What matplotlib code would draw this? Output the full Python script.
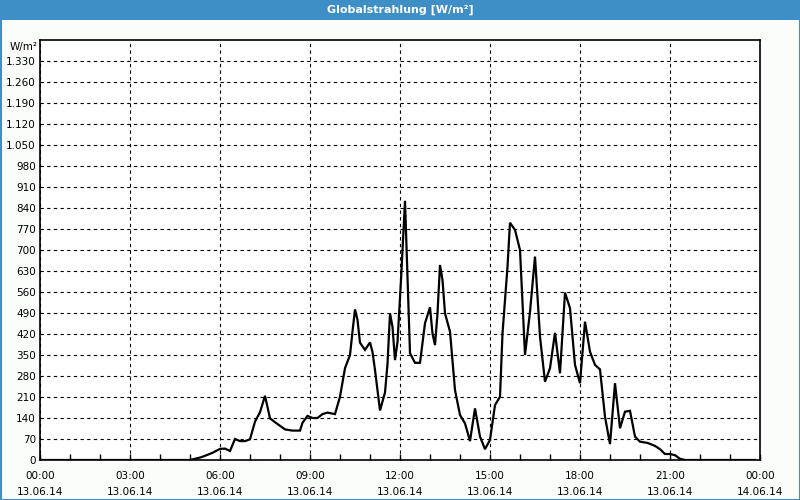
import matplotlib
matplotlib.use("Agg")
import matplotlib.pyplot as plt
from matplotlib.patches import Rectangle
from matplotlib.ticker import MultipleLocator, FuncFormatter

# minutes since 13.06.14 00:00
minutes = [0, 300, 320, 330, 345, 360, 370, 380, 390, 400, 410, 420, 430, 440,
           450, 460, 470, 480, 490, 505, 520, 525, 535, 545, 555, 565, 575, 590,
           600, 610, 620, 625, 630, 635, 640, 650, 660, 665, 670, 680, 690, 695,
           700, 705, 710, 715, 722, 730, 740, 750, 760, 770, 780, 785, 790, 795,
           800, 805, 810, 820, 830, 840, 850, 860, 870, 880, 890, 900, 910, 920,
           925, 935, 940, 950, 960, 970, 980, 990, 1000, 1010, 1020, 1030, 1040,
           1050, 1060, 1070, 1080, 1090, 1100, 1110, 1120, 1130, 1140, 1150, 1160,
           1170, 1180, 1190, 1200, 1215, 1230, 1240, 1250, 1260, 1270, 1280, 1290,
           1430]
values = [0, 0, 8, 14, 24, 37, 38, 30, 70, 63, 63, 69, 128, 159,
          214, 139, 126, 114, 102, 98, 98, 124, 147, 140, 140, 153, 158, 153,
          211, 306, 350, 428, 502, 467, 391, 367, 392, 360, 300, 165, 225, 320,
          489, 444, 333, 394, 600, 864, 356, 324, 324, 456, 509, 422, 383, 489,
          650, 600, 489, 428, 233, 150, 122, 63, 172, 78, 36, 67, 183, 211,
          422, 644, 791, 767, 700, 350, 494, 678, 411, 261, 306, 424, 289,
          558, 506, 317, 256, 461, 361, 317, 302, 144, 53, 256, 106,
          161, 164, 78, 61, 57, 47, 36, 20, 20, 16, 4, 0,
          0]

tick_hours = [0, 3, 6, 9, 12, 15, 18, 21, 24]
tick_labels = ["00:00\n13.06.14", "03:00\n13.06.14", "06:00\n13.06.14",
               "09:00\n13.06.14", "12:00\n13.06.14", "15:00\n13.06.14",
               "18:00\n13.06.14", "21:00\n13.06.14", "00:00\n14.06.14"]

title = "Globalstrahlung [W/m²]"
unit = "W/m²"

blue = "#3D8FC6"
bg = "#FBFDFB"

fig = plt.figure(figsize=(8, 5), dpi=100, facecolor=bg)

# title bar and border
fig.patches.append(Rectangle((0, 1 - 20 / 500), 1, 20 / 500, transform=fig.transFigure,
                             facecolor=blue, edgecolor="none", zorder=0))
fig.patches.append(Rectangle((0.5 / 800, 0.5 / 500), 1 - 1 / 800, 1 - 1 / 500,
                             transform=fig.transFigure, facecolor="none",
                             edgecolor=blue, linewidth=1.5, zorder=0))
fig.text(0.5, 1 - 10 / 500, title, color="white", ha="center", va="center",
         fontsize=8, fontweight="bold", family="DejaVu Sans")

ax = fig.add_axes([40 / 800, 40 / 500, 720 / 800, 420 / 500])
ax.set_facecolor("white")

hours = [m / 60 for m in minutes]
ax.plot(hours, values, color="black", linewidth=1.6, solid_joinstyle="miter")

ax.set_xlim(0, 24)
ax.set_ylim(0, 1400)

ax.set_xticks(tick_hours)
ax.set_xticklabels(tick_labels, fontsize=7.5, linespacing=1.7)
ax.xaxis.set_minor_locator(MultipleLocator(1))

yt = list(range(0, 1331, 70))
ax.set_yticks(yt)
ax.yaxis.set_major_formatter(FuncFormatter(lambda v, p: f"{int(v):,}".replace(",", ".")))
ax.tick_params(axis="y", length=0, labelsize=7.5, pad=3)
ax.tick_params(axis="x", which="both", direction="in", length=4, width=1, pad=8)

ax.grid(True, which="major", color="black", linestyle=(0, (3, 3)), linewidth=0.8)
ax.set_axisbelow(True)
for s in ax.spines.values():
    s.set_linewidth(1.2)
    s.set_color("black")

fig.text(10 / 800, 1 - 47 / 500, unit, fontsize=7.5, ha="left", va="center")

fig.savefig("out.png", dpi=100, facecolor=bg)
